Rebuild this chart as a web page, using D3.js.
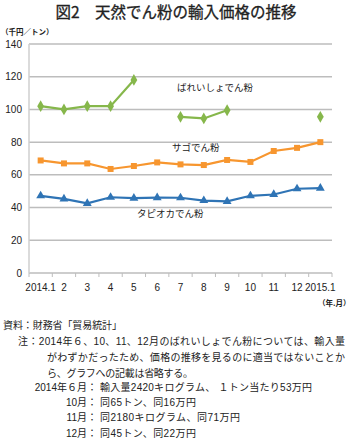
<!DOCTYPE html>
<html>
<head>
<meta charset="utf-8">
<script src="https://cdn.jsdelivr.net/npm/d3@7"></script>
<style>
  body { margin: 0; background: #fff; }
  text { font-family: "Liberation Sans", "Noto Sans CJK JP", sans-serif; }
  .jp { font-family: "Noto Sans CJK JP", sans-serif; }
</style>
</head>
<body>
<svg id="chart" width="350" height="441"></svg>
<script>
// categories and values
var months = ["2014.1", "2", "3", "4", "5", "6", "7", "8", "9", "10", "11", "12", "2015.1"];
var potato = [102, 100, 102, 102, 118, null, 95.5, 94.5, 99.5, null, null, null, 95.5];
var sago = [68.8, 67, 67, 63.6, 65.4, 67.6, 66.4, 66, 69.1, 67.9, 74.6, 76.5, 80];
var tapioca = [47.2, 45.3, 42.6, 46.3, 45.8, 46.1, 46, 44.3, 43.8, 47.2, 48, 51.5, 51.9];
var yTicks = [0, 20, 40, 60, 80, 100, 120, 140];

var notes = [
    {x: 3, y: 329, w: 119, t: "資料：財務省「貿易統計」"},
    {x: 18, y: 345, w: 327, t: "注：2014年６、10、11、12月のばれいしょでん粉については、輸入量"},
    {x: 47, y: 361, w: 298, t: "がわずかだったため、価格の推移を見るのに適当ではないことか"},
    {x: 47, y: 376.5, w: 146, t: "ら、グラフへの記載は省略する。"}
];
var detailMonths = ["2014年６月", "10月", "11月", "12月"];
var detailTexts = [
    "輸入量2420キログラム、 １トン当たり53万円",
    "同65トン、同16万円",
    "同2180キログラム、同71万円",
    "同45トン、同22万円"
];
var detailWidths = [212, 96, 140, 96];

var svg = d3.select("#chart");

var x = d3.scaleBand().domain(months).range([29, 332]);
var y = d3.scaleLinear().domain([0, 140]).range([273, 44]);

// title
svg.append("text")
    .attr("class", "jp")
    .attr("x", 176).attr("y", 18)
    .attr("text-anchor", "middle")
    .attr("font-size", 15.5)
    .attr("fill", "#222")
    .attr("stroke", "#222")
    .attr("stroke-width", 0.3)
    .text("図2　天然でん粉の輸入価格の推移");

svg.append("text")
    .attr("class", "jp")
    .attr("x", 1).attr("y", 35)
    .attr("font-size", 7.5)
    .attr("font-weight", "bold")
    .attr("fill", "#222")
    .text("（千円／トン）");

// grid
svg.append("g").selectAll("line")
    .data(yTicks)
    .enter().append("line")
    .attr("x1", 29).attr("x2", 332)
    .attr("y1", function (d) { return y(d); })
    .attr("y2", function (d) { return y(d); })
    .attr("stroke", "#bdbdbd")
    .attr("stroke-width", 1.5);

// y axis line
svg.append("line")
    .attr("x1", 29).attr("x2", 29)
    .attr("y1", y(140)).attr("y2", y(0))
    .attr("stroke", "#cfcfcf").attr("stroke-width", 1.5);

// y labels
svg.append("g").selectAll("text")
    .data(yTicks)
    .enter().append("text")
    .attr("x", 22)
    .attr("y", function (d) { return y(d) + 3.5; })
    .attr("text-anchor", "end")
    .attr("font-size", 10)
    .attr("fill", "#222")
    .text(function (d) { return d; });

// x ticks at band edges
var edges = months.map(function (m) { return x(m); }).concat([332]);
svg.append("g").selectAll("line")
    .data(edges)
    .enter().append("line")
    .attr("x1", function (d) { return d; })
    .attr("x2", function (d) { return d; })
    .attr("y1", y(0)).attr("y2", y(0) + 4)
    .attr("stroke", "#bdbdbd").attr("stroke-width", 1);

// x labels
svg.append("g").selectAll("text")
    .data(months)
    .enter().append("text")
    .attr("x", function (d) { return x(d) + x.bandwidth() / 2; })
    .attr("y", 291)
    .attr("text-anchor", "middle")
    .attr("font-size", 10)
    .attr("fill", "#222")
    .text(function (d) { return d; });

svg.append("text")
    .attr("class", "jp")
    .attr("x", 318).attr("y", 306)
    .attr("font-size", 7.5)
    .attr("font-weight", "bold")
    .attr("fill", "#222")
    .text("（年.月）");

function drawSeries(values, color, symbol, size) {
    var pts = values.map(function (v, i) { return {m: months[i], v: v}; });
    var line = d3.line()
        .defined(function (d) { return d.v !== null; })
        .x(function (d) { return x(d.m) + x.bandwidth() / 2; })
        .y(function (d) { return y(d.v); });
    svg.append("path")
        .datum(pts)
        .attr("d", line)
        .attr("fill", "none")
        .attr("stroke", color)
        .attr("stroke-width", 2.2);
    svg.append("g").selectAll("path")
        .data(pts.filter(function (d) { return d.v !== null; }))
        .enter().append("path")
        .attr("d", d3.symbol().type(symbol).size(size))
        .attr("transform", function (d) {
            return "translate(" + (x(d.m) + x.bandwidth() / 2) + "," + y(d.v) + ")";
        })
        .attr("fill", color);
}

drawSeries(potato, "#86b74b", d3.symbolDiamond, 40);
drawSeries(sago, "#f7962f", d3.symbolSquare, 36);
drawSeries(tapioca, "#2f74b5", d3.symbolTriangle, 34);

// series labels
var labels = [
    {x: 177, y: 91, t: "ばれいしょでん粉"},
    {x: 172, y: 151, t: "サゴでん粉"},
    {x: 137, y: 217, t: "タピオカでん粉"}
];
svg.append("g").selectAll("text")
    .data(labels)
    .enter().append("text")
    .attr("class", "jp")
    .attr("x", function (d) { return d.x; })
    .attr("y", function (d) { return d.y; })
    .attr("font-size", 9.5)
    .attr("fill", "#222")
    .text(function (d) { return d.t; });

// notes
svg.append("g").selectAll("text")
    .data(notes)
    .enter().append("text")
    .attr("x", function (d) { return d.x; })
    .attr("y", function (d) { return d.y; })
    .attr("font-size", 10)
    .attr("textLength", function (d) { return d.w; })
    .attr("lengthAdjust", "spacing")
    .attr("fill", "#222")
    .text(function (d) { return d.t; });

var det = svg.append("g").selectAll("g")
    .data(detailMonths)
    .enter().append("g");
det.append("text")
    .attr("x", 87)
    .attr("y", function (d, i) { return 391 + i * 15.2; })
    .attr("text-anchor", "end")
    .attr("font-size", 10)
    .attr("fill", "#222")
    .text(function (d) { return d; });
det.append("text")
    .attr("class", "jp")
    .attr("x", 92)
    .attr("y", function (d, i) { return 391 + i * 15.2; })
    .attr("text-anchor", "middle")
    .attr("font-size", 10)
    .attr("fill", "#222")
    .text("：");
det.append("text")
    .attr("x", 100)
    .attr("y", function (d, i) { return 391 + i * 15.2; })
    .attr("font-size", 10)
    .attr("textLength", function (d, i) { return detailWidths[i]; })
    .attr("lengthAdjust", "spacing")
    .attr("fill", "#222")
    .text(function (d, i) { return detailTexts[i]; });
</script>
</body>
</html>
